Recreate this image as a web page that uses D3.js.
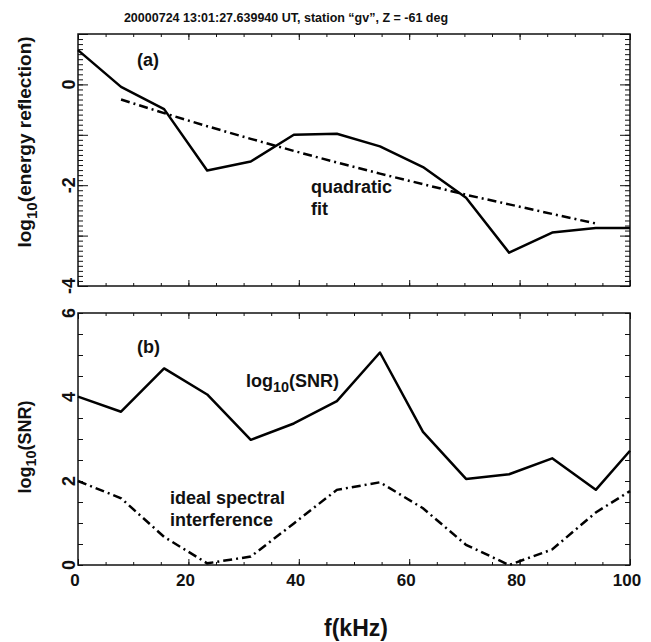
<!DOCTYPE html>
<html>
<head>
<meta charset="utf-8">
<script src="https://cdn.jsdelivr.net/npm/d3@7"></script>
<style>
  body { margin: 0; background: #fff; }
  text { font-family: "Liberation Sans", Arial, Helvetica, sans-serif; font-weight: bold; fill: #111; }
</style>
</head>
<body>
<script>
// data
var freq = [0, 7.8, 15.6, 23.4, 31.3, 39.1, 46.9, 54.7, 62.5, 70.3, 78.1, 85.9, 93.8, 100];
var energyRefl = [0.68, -0.05, -0.49, -1.71, -1.53, -1.0, -0.98, -1.23, -1.64, -2.25, -3.34, -2.94, -2.85, -2.85];
var fitFreq = [7.8, 15.6, 23.4, 31.3, 39.1, 46.9, 54.7, 62.5, 70.3, 78.1, 85.9, 93.8];
var quadFit = [-0.30, -0.57, -0.83, -1.08, -1.32, -1.55, -1.77, -1.98, -2.19, -2.38, -2.57, -2.76];
var snr = [4.01, 3.65, 4.68, 4.06, 2.98, 3.37, 3.90, 5.06, 3.17, 2.05, 2.16, 2.54, 1.79, 2.72];
var idealInterf = [2.0, 1.59, 0.67, 0.04, 0.2, 0.99, 1.79, 1.97, 1.35, 0.48, 0.0, 0.37, 1.25, 1.76];

var xTickLabels = [0, 20, 40, 60, 80, 100];
var yTopLabels = [-4, -2, 0];
var yBotLabels = [0, 2, 4, 6];

var width = 651, height = 642;
var left = 78, right = 630;
var svg = d3.select("body").append("svg").attr("width", width).attr("height", height);
svg.append("rect").attr("width", width).attr("height", height).attr("fill", "#fff");

var x = d3.scaleLinear().domain([0, 100]).range([left, right]);
var yTop = d3.scaleLinear().domain([-4, 1]).range([286, 34]);
var yBot = d3.scaleLinear().domain([0, 6]).range([565, 313]);

var dashDot = "9,4,2,4";

function frame(y, yMajor, yMinor, majLen, minLen) {
  var top = y.range()[1], bot = y.range()[0];
  var g = svg.append("g");
  var xMinor = d3.range(0, 101, 5);
  [[d3.axisBottom, bot, xMinor, 3], [d3.axisBottom, bot, xTickLabels, 6],
   [d3.axisTop, top, xMinor, 3], [d3.axisTop, top, xTickLabels, 6]].forEach(function(a) {
    g.append("g").attr("transform", "translate(0," + a[1] + ")")
      .call(a[0](x).tickValues(a[2]).tickSize(-a[3]).tickSizeOuter(0).tickFormat(""));
  });
  [[d3.axisLeft, left, yMinor, minLen], [d3.axisLeft, left, yMajor, majLen],
   [d3.axisRight, right, yMinor, minLen], [d3.axisRight, right, yMajor, majLen]].forEach(function(a) {
    g.append("g").attr("transform", "translate(" + a[1] + ",0)")
      .call(a[0](y).tickValues(a[2]).tickSize(-a[3]).tickSizeOuter(0).tickFormat(""));
  });
  g.selectAll(".domain").remove();
  g.selectAll(".tick line").attr("stroke", "#111").attr("stroke-width", 1);
  g.append("rect").attr("x", left).attr("y", top).attr("width", right - left).attr("height", bot - top)
    .attr("fill", "none").attr("stroke", "#111").attr("stroke-width", 1.5);
}

// panel (a)
frame(yTop, d3.range(-4, 1.01, 1), d3.range(-4, 1.001, 0.1).map(function(d) { return +d.toFixed(1); }), 10, 5);
// panel (b)
frame(yBot, d3.range(0, 6.01, 0.5), d3.range(0, 6.01, 0.5), 5, 5);

var lineTop = d3.line().x(function(d) { return x(d[0]); }).y(function(d) { return yTop(d[1]); });
var lineBot = d3.line().x(function(d) { return x(d[0]); }).y(function(d) { return yBot(d[1]); });

svg.append("path").datum(d3.zip(freq, energyRefl)).attr("d", lineTop)
  .attr("fill", "none").attr("stroke", "#000").attr("stroke-width", 2.5).attr("stroke-linejoin", "round");
svg.append("path").datum(d3.zip(fitFreq, quadFit)).attr("d", lineTop)
  .attr("fill", "none").attr("stroke", "#000").attr("stroke-width", 2.5).attr("stroke-dasharray", dashDot);
svg.append("path").datum(d3.zip(freq, snr)).attr("d", lineBot)
  .attr("fill", "none").attr("stroke", "#000").attr("stroke-width", 2.5).attr("stroke-linejoin", "round");
svg.append("path").datum(d3.zip(freq, idealInterf)).attr("d", lineBot)
  .attr("fill", "none").attr("stroke", "#000").attr("stroke-width", 2.5).attr("stroke-dasharray", dashDot);

// tick labels
svg.selectAll(".xl").data(xTickLabels).enter().append("text")
  .attr("x", function(d) { return x(d) - 3; }).attr("y", 586)
  .attr("text-anchor", "middle").attr("font-size", 17).text(function(d) { return d; });

function yLabels(y, vals) {
  svg.selectAll(null).data(vals).enter().append("text")
    .attr("transform", function(d) { return "translate(75," + y(d) + ") rotate(-90)"; })
    .attr("text-anchor", "middle").attr("font-size", 18).text(function(d) { return d; });
}
yLabels(yTop, yTopLabels);
yLabels(yBot, yBotLabels);

// title and axis titles
svg.append("text").attr("x", 286).attr("y", 22).attr("text-anchor", "middle").attr("font-size", 12.5)
  .text("20000724 13:01:27.639940 UT, station \u201cgv\u201d, Z = -61 deg");
svg.append("text").attr("x", 356).attr("y", 636).attr("text-anchor", "middle").attr("font-size", 23).text("f(kHz)");

function logLabel(t, px, py, rest, size, rotate) {
  t.attr("transform", "translate(" + px + "," + py + ")" + (rotate ? " rotate(-90)" : ""))
    .attr("font-size", size);
  t.append("tspan").text("log");
  t.append("tspan").attr("dy", size * 0.3).attr("font-size", size * 0.8).text("10");
  t.append("tspan").attr("dy", -size * 0.3).text(rest);
  return t;
}
logLabel(svg.append("text").attr("text-anchor", "middle"), 31, 142, "(energy reflection)", 19, true);
logLabel(svg.append("text").attr("text-anchor", "middle"), 31, 447, "(SNR)", 18, true);
logLabel(svg.append("text"), 246, 387, "(SNR)", 18, false);

// annotations
svg.append("text").attr("x", 137).attr("y", 66).attr("font-size", 18).text("(a)");
svg.append("text").attr("x", 311).attr("y", 193).attr("font-size", 18).text("quadratic");
svg.append("text").attr("x", 311).attr("y", 215).attr("font-size", 18).text("fit");
svg.append("text").attr("x", 137).attr("y", 353).attr("font-size", 18).text("(b)");
svg.append("text").attr("x", 170).attr("y", 504).attr("font-size", 18).text("ideal spectral");
svg.append("text").attr("x", 170).attr("y", 526).attr("font-size", 18).text("interference");
</script>
</body>
</html>
